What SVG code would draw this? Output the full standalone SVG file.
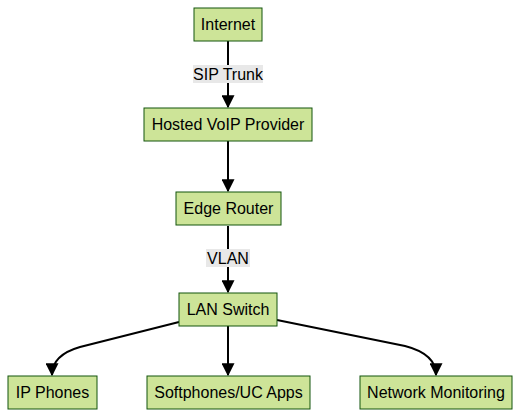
<svg xmlns="http://www.w3.org/2000/svg" width="521" height="417" viewBox="0 0 521 417">
<style>
.node rect{fill:#cde498;stroke:#13540c;stroke-width:1}
.node text,.lbl text{font-family:"Liberation Sans",Arial,sans-serif;font-size:16px;fill:#000;text-anchor:middle;dominant-baseline:central}
.edge{fill:none;stroke:#000;stroke-width:2}
.lbl rect{fill:#e8e8e8}
</style>
<defs>
<marker id="ah" viewBox="0 0 10 10" refX="9" refY="5" markerWidth="6.5" markerHeight="6.5" markerUnits="strokeWidth" orient="auto">
<path d="M0,0 L10,5 L0,10 z" fill="#000"/>
</marker>
</defs>
<rect width="521" height="417" fill="#fff"/>
<g id="connectors">
<path class="edge" d="M228,41 L228,107" marker-end="url(#ah)"/>
<path class="edge" d="M228,141 L228,191" marker-end="url(#ah)"/>
<path class="edge" d="M228,226 L228,292" marker-end="url(#ah)"/>
<path class="edge" d="M179,322 L80,347 Q52,355 52,375" marker-end="url(#ah)"/>
<path class="edge" d="M228,326 L228,375" marker-end="url(#ah)"/>
<path class="edge" d="M277,320 L405,346 Q436,354 436,375" marker-end="url(#ah)"/>
<g class="lbl"><rect x="193" y="65" width="70" height="18"/><text x="228" y="74">SIP Trunk</text></g>
<g class="lbl"><rect x="206" y="249" width="44" height="18"/><text x="228" y="258">VLAN</text></g>
</g>
<g id="internet" class="node"><rect x="194" y="8" width="68" height="33"/><text x="228" y="24.5">Internet</text></g>
<g id="voip" class="node"><rect x="144" y="108" width="168" height="33"/><text x="228" y="124.5">Hosted VoIP Provider</text></g>
<g id="router" class="node"><rect x="176" y="192" width="105" height="33"/><text x="228.5" y="208.5">Edge Router</text></g>
<g id="switch" class="node"><rect x="179" y="293" width="98" height="33"/><text x="228" y="309.5">LAN Switch</text></g>
<g id="phones" class="node"><rect x="8" y="376" width="89" height="33"/><text x="52.5" y="392.5">IP Phones</text></g>
<g id="softphones" class="node"><rect x="147" y="376" width="163" height="33"/><text x="228.5" y="392.5">Softphones/UC Apps</text></g>
<g id="monitoring" class="node"><rect x="360" y="376" width="152" height="33"/><text x="436" y="392.5">Network Monitoring</text></g>
</svg>
